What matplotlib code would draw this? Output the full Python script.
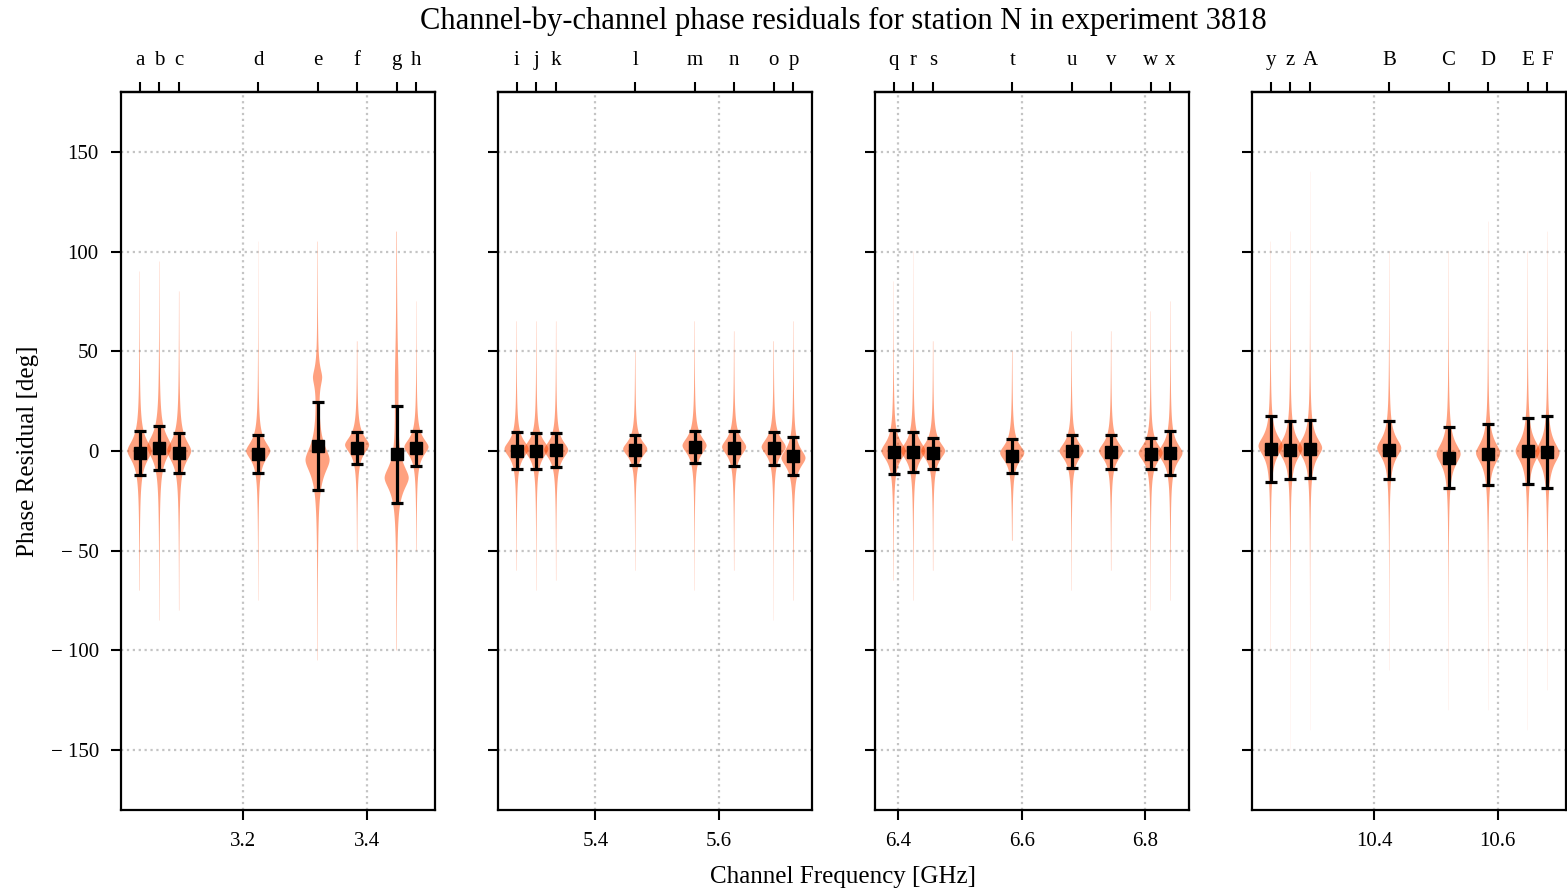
import numpy as np
import matplotlib
matplotlib.use("Agg")
import matplotlib.pyplot as plt

plt.rcParams["font.family"] = ["Liberation Serif", "DejaVu Serif"]

# channel sky frequencies [GHz], one row per band
BANDS = [
    [3.0324, 3.0644, 3.0964, 3.2244, 3.3204, 3.3844, 3.4484, 3.4804],
    [5.2724, 5.3044, 5.3364, 5.4644, 5.5604, 5.6244, 5.6884, 5.7204],
    [6.3924, 6.4244, 6.4564, 6.5844, 6.6804, 6.7444, 6.8084, 6.8404],
    [10.2324, 10.2644, 10.2964, 10.4244, 10.5204, 10.5844, 10.6484, 10.6804],
]
CHANNELS = list("abcdefghijklmnopqrstuvwxyzABCDEF")
BOTTOM_TICKS = [[3.2, 3.4], [5.4, 5.6], [6.4, 6.6, 6.8], [10.4, 10.6]]
Y_TICKS = [-150, -100, -50, 0, 50, 100, 150]

# mean residual and scatter per channel [deg]
MEAN = [
    -1.0, 1.5, -1.0, -1.5, 2.5, 1.5, -1.7, 1.3,
    0.2, 0.2, 0.4, 0.5, 2.0, 1.4, 1.3, -2.4,
    -0.5, -0.5, -1.2, -2.6, -0.2, -0.3, -1.3, -1.0,
    1.2, 0.5, 1.2, 0.6, -3.3, -1.6, 0.0, -0.6,
]
STD = [
    11.0, 11.0, 10.0, 9.3, 22.0, 8.0, 24.4, 8.8,
    9.1, 9.0, 8.4, 7.5, 8.2, 8.7, 8.3, 9.6,
    11.2, 10.0, 7.9, 8.4, 8.3, 8.5, 7.8, 11.0,
    16.5, 14.5, 14.5, 14.6, 15.2, 15.2, 16.4, 17.9,
]

# residual distribution per channel: peak, core scale, and range [deg]
PEAK = [
    0.0, 2.0, 0.0, 0.0, -4.5, 3.0, -13.5, 2.0,
    1.0, 1.0, 0.5, 1.0, 2.7, 2.0, 2.0, -3.5,
    0.0, 0.0, 0.0, -1.0, 0.0, 0.0, -1.0, -1.0,
    2.5, 1.0, 1.5, 1.5, -1.5, -1.0, 0.0, -1.0,
]
CORE = [
    7.0, 7.5, 7.0, 6.0, 9.0, 5.5, 8.0, 5.5,
    5.5, 5.5, 5.5, 5.0, 5.5, 5.5, 5.5, 6.0,
    6.0, 6.0, 5.5, 5.5, 5.5, 5.5, 5.5, 6.0,
    6.5, 6.5, 6.5, 6.5, 7.0, 7.0, 7.0, 7.0,
]
LOW = [
    -70, -85, -80, -75, -105, -50, -100, -50,
    -60, -70, -65, -60, -70, -60, -85, -75,
    -65, -75, -60, -45, -70, -60, -80, -75,
    -100, -150, -140, -110, -130, -130, -140, -120,
]
HIGH = [
    90, 95, 80, 105, 105, 55, 110, 75,
    65, 65, 65, 50, 65, 60, 55, 65,
    85, 100, 55, 50, 60, 60, 70, 75,
    105, 110, 140, 100, 100, 115, 100, 110,
]
# secondary lobes: channel -> (position, scale, relative height)
EXTRA_LOBES = {"e": (37.0, 6.0, 0.33), "g": (35.0, 25.0, 0.12)}

VIOLIN_COLOR = "orangered"
HALF_WIDTH = 0.0195
PAD = 0.03


def profile(y, c, s):
    return 1.0 / (1.0 + np.abs((y - c) / s) ** 1.85)


fig = plt.figure(figsize=(15.67, 8.94), dpi=100)

left0, width, gap = 121 / 1567, 314 / 1567, 63 / 1567
bottom, height = 1 - 810 / 894, 718 / 894

k = 0
axes = []
for b, freqs in enumerate(BANDS):
    ax = fig.add_axes([left0 + b * (width + gap), bottom, width, height])
    axes.append(ax)
    i0 = k
    for f in freqs:
        ch = CHANNELS[k]
        yy = np.linspace(LOW[k], HIGH[k], 800)
        dens = profile(yy, PEAK[k], CORE[k])
        if ch in EXTRA_LOBES:
            c, s, a = EXTRA_LOBES[ch]
            dens = dens + a * profile(yy, c, s)
        dens = dens / dens.max() * HALF_WIDTH
        ax.fill_betweenx(yy, f - dens, f + dens, facecolor=VIOLIN_COLOR,
                         alpha=0.5, linewidth=0, zorder=2)
        k += 1

    ax.errorbar(freqs, MEAN[i0:k], yerr=STD[i0:k], fmt="s", color="k",
                ms=9, elinewidth=2.3, capsize=4.5, capthick=2.3, zorder=3)

    ax.set_xlim(freqs[0] - PAD, freqs[-1] + PAD)
    ax.set_ylim(-180, 180)
    ax.set_xticks(BOTTOM_TICKS[b])
    ax.set_xticklabels([f"{t:.1f}" for t in BOTTOM_TICKS[b]])
    ax.set_yticks(Y_TICKS)
    if b == 0:
        ax.set_yticklabels([f"\u2212 {-t}" if t < 0 else str(t) for t in Y_TICKS])
    else:
        ax.set_yticklabels([])
    ax.grid(True, linestyle=":", color="#c4c4c4", linewidth=1.6, zorder=0)
    ax.set_axisbelow(True)
    ax.tick_params(direction="out", length=7, width=1.5, labelsize=15,
                   pad=9, right=False, top=False)
    for sp in ax.spines.values():
        sp.set_linewidth(1.6)

    top = ax.secondary_xaxis("top")
    top.set_xticks(freqs)
    top.set_xticklabels(CHANNELS[i0:k])
    top.tick_params(direction="out", length=7, width=1.5, labelsize=15, pad=9)
    top.spines["top"].set_linewidth(1.6)

axes[0].set_ylabel("Phase Residual [deg]", fontsize=18, labelpad=8)
mid = (axes[0].get_position().x0 + axes[-1].get_position().x1) / 2
fig.text(mid, 1 - 877 / 894, "Channel Frequency [GHz]", ha="center",
         va="center", fontsize=18)
fig.text(mid, 1 - 21 / 894, "Channel-by-channel phase residuals for station N in experiment 3818",
         ha="center", va="center", fontsize=22)

fig.savefig("out.png", dpi=100)
